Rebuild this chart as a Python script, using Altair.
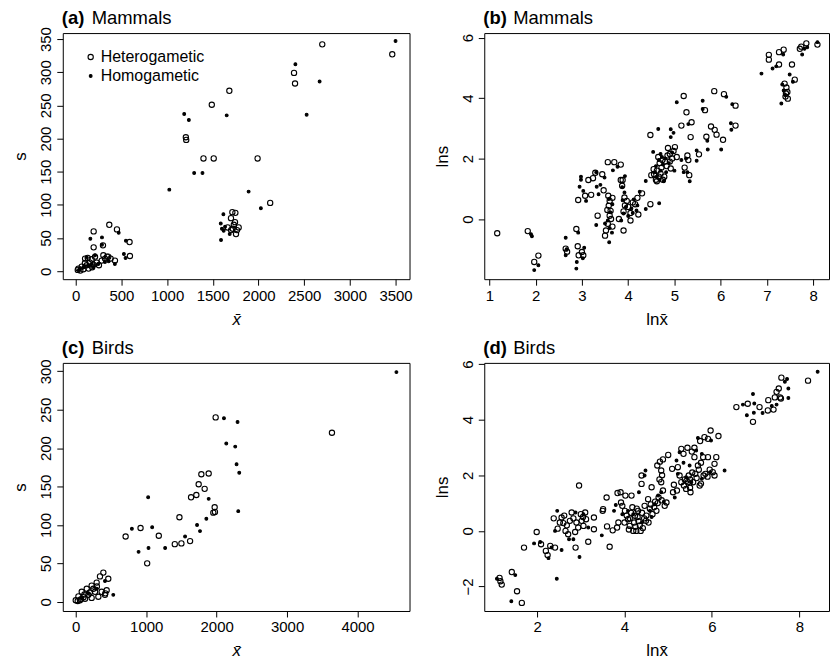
import altair as alt
import pandas as pd

HET = "Heterogametic"
HOM = "Homogametic"
FONT = "Liberation Sans"

# ---------- panel (a): Mammals, raw scale ----------
a_het = [(2698,342),(3464,327),(2389,299),(2400,283),(1681,272),(1489,251),(1205,202),(1209,198),
         (1398,170),(1510,170),(1990,170),(2128,103),
         (1714,89),(1747,88),(1699,80),(1743,74),(1718,64),(1783,66),(1754,56),(1663,66),(1730,70),
         (1765,62),(1700,62),
         (196,60),(367,70),(451,63),(589,44),(593,23),(196,36),(298,39),(356,22),(382,19),(429,16),
         (102,19),(131,20),(174,18),(211,22),(156,13),(193,10),(229,13),(120,9),(65,7),(29,4),(22,2),
         (84,3),(284,16),(254,9),(320,19),(302,24),(342,22),(50,1),(140,4),(180,6),(100,12)]
a_hom = [(3500,347),(2404,312),(2669,286),(2527,236),(1652,235),(1187,237),(1238,228),(1296,148),
         (1387,148),(1024,123),(1892,120),(2026,95),
         (1616,86),(1587,72),(1590,47),(1685,56),(1619,61),(1634,67),(1600,64),
         (160,49),(287,51),(470,58),(549,46),(527,26),(545,20),(428,11),(320,14),(247,11),(36,2),
         (87,6),(287,40),(120,21),(174,11),(211,24),(95,8),(138,9),(360,15),(193,6)]

# ---------- panel (b): Mammals, log scale ----------
b_het = [(1.17,-0.47),(1.83,-0.40),(1.97,-1.42),(2.06,-1.21),(2.65,-0.98),(2.68,-1.08),(2.88,-0.33),
         (2.91,-0.90),(2.93,-1.20),(3.00,-1.09),(3.03,-1.20),(2.92,0.63),
         (3.07,0.77),(3.14,1.29),(3.20,0.80),(3.29,1.53),(3.24,1.35),(3.34,0.11),(3.44,1.48),(3.47,0.95),
         (3.56,1.88),(3.70,1.88),(3.84,1.80),(3.84,1.29),
         (3.57,0.77),(3.60,0.60),(3.58,0.44),(3.62,0.27),(3.60,0.11),(3.63,0.00),(3.56,-0.16),
         (3.52,-0.38),(3.50,-0.55),(3.66,0.70),(3.55,0.30),(3.66,-0.25),
         (3.80,0.00),(3.90,-0.38),(3.88,1.29),(3.87,1.10),(3.92,0.71),(3.97,0.60),(3.93,0.45),
         (3.90,0.25),(4.00,0.40),(4.05,0.20),(4.10,0.55),(4.15,0.49),(4.20,0.70),(4.22,0.15),
         (4.30,0.85),(4.05,-0.05),
         (4.48,0.49),(4.48,2.78),(4.56,1.48),(4.50,1.45),(4.60,1.30),(4.62,1.60),(4.68,1.85),
         (4.72,1.70),(4.65,2.05),(4.78,1.40),(4.80,1.90),(4.86,2.35),(4.90,2.15),(4.92,1.67),
         (4.95,2.00),(5.01,2.38),(5.05,2.05),(4.75,1.30),(4.70,1.50),(4.85,2.10),
         (4.55,1.65),(4.66,1.40),(4.74,1.95),(4.83,1.75),(4.90,1.90),(4.98,2.25),(4.62,1.25),
         (5.15,3.09),(5.20,4.07),(5.26,3.53),(5.37,3.20),(5.35,2.71),(5.28,2.10),(5.30,1.95),
         (5.22,1.70),(5.32,1.45),(5.53,2.14),
         (5.66,3.60),(5.69,2.72),(5.79,3.06),(5.87,2.95),(5.91,2.79),(5.86,4.23),(6.07,4.13),
         (6.05,2.62),(6.32,3.75),(6.32,3.09),
         (7.04,5.27),(7.04,5.43),(7.26,5.52),(7.36,5.60),(7.26,5.11),(7.54,5.11),(7.60,4.61),
         (7.38,4.48),(7.42,4.35),(7.44,4.20),(7.40,4.05),(7.45,3.98),(7.41,4.15),
         (7.85,5.81),(7.71,5.63),(8.09,5.77),(7.74,5.70)]
b_hom = [(1.92,-0.57),(1.90,-0.50),(1.97,-1.69),(2.06,-1.53),(2.65,-0.62),(2.65,-1.20),(2.67,-1.00),
         (2.88,-1.64),(2.89,-1.42),(2.92,-0.45),(3.05,-0.95),(3.02,-1.30),
         (2.98,1.40),(2.98,1.30),(2.95,1.07),(3.03,0.93),(3.09,0.60),(3.32,1.07),(3.36,0.82),
         (3.31,1.55),(3.49,1.37),(3.40,1.13),(3.67,1.61),(3.77,1.73),(3.93,1.42),
         (3.31,-0.20),(3.59,-0.77),(3.58,0.66),(3.66,0.49),(3.62,0.22),(3.56,-0.05),(3.50,-0.15),
         (3.65,-0.45),(3.60,-0.30),
         (3.87,1.05),(3.92,0.88),(3.88,0.62),(3.95,0.40),(3.90,0.18),(4.00,0.10),(4.07,0.35),
         (4.12,0.65),(4.18,0.28),(4.20,0.45),(4.25,0.90),(4.10,0.20),(3.85,-0.05),
         (4.38,1.26),(4.38,0.33),(4.67,0.52),(4.54,2.22),(4.65,2.98),(4.92,2.71),(5.05,3.86),
         (4.92,2.97),(5.30,3.14),(4.98,2.85),
         (4.60,1.75),(4.66,1.95),(4.70,2.15),(4.75,1.80),(4.73,2.05),(4.82,1.55),(4.88,1.85),
         (4.58,1.55),(4.77,1.25),(4.62,1.40),(4.95,2.20),(5.00,1.60),(5.15,1.95),(5.20,1.55),
         (5.28,1.55),(5.33,1.25),(5.25,2.00),(4.70,1.60),(4.80,2.00),(4.68,1.30),
         (5.61,3.91),(5.61,3.64),(5.71,2.59),(5.72,2.30),(5.48,2.27),(5.48,1.93),(6.01,2.30),
         (6.12,4.04),(6.25,3.80),(6.22,3.17),(6.23,2.95),
         (6.88,4.81),(7.12,4.98),(7.35,5.44),(7.49,4.78),(7.56,4.54),(7.31,3.82),(7.33,4.45),
         (7.36,4.25),(7.39,4.10),(7.76,5.44),(7.81,5.63),(7.87,5.68),(8.09,5.85),(7.20,5.05)]

# ---------- panel (c): Birds, raw scale ----------
c_het = [(1986,240),(3637,220),(1783,166),(1887,167),(1745,153),(1830,147),(1712,139),(1637,136),
         (1972,123),(1976,117),(1953,116),(1472,110),(708,85),(920,96),(1179,86),(1406,75),
         (1500,76),(1623,79),(1014,50),
         (392,38),(462,30),(344,33),(297,25),(226,21),(156,17),(85,13),(38,7),(0,2),(132,4),
         (226,5),(321,6.5),(439,15),(415,9),(179,9),(75,3.5),(28,1),(123,9.5),(274,13),(368,13),
         (250,17),(200,12),(110,6),(60,2),(300,20),(420,11)]
c_hom = [(4552,299),(2104,239),(2297,234),(2137,206),(2264,202),(2283,179),(2321,168),(1887,134),
         (2307,118),(1854,108),(1722,100),(1764,92),(1552,85),(1028,136),(1085,97),(797,95),
         (892,65),(1033,70),(1269,70),(533,9),(415,27),(297,17),(179,11),(90,4)]

# ---------- panel (d): Birds, log scale ----------
d_het = [(1.14,-1.69),(1.16,-1.81),(1.19,-1.93),(1.42,-1.48),(1.54,-2.17),(1.65,-2.59),(1.70,-0.60),
         (1.99,-0.04),(2.09,-0.48),(2.20,-0.72),(2.24,-0.87),(2.30,-0.54),(2.41,-0.60),(2.38,0.45),
         (2.47,0.08),(2.56,0.48),(2.60,0.28),(2.65,0.00),(2.71,-0.12),(2.79,0.66),(2.75,0.36),
         (2.87,-0.04),(2.88,-0.60),(2.96,1.63),(2.94,0.12),(3.00,0.60),(3.02,0.36),(3.06,0.18),
         (3.10,0.66),(3.12,0.42),(3.17,-0.39),(3.30,0.48),(3.30,0.06),(3.50,0.72),(3.51,0.78),
         (3.59,1.20),(3.60,0.16),(3.66,-0.57),(3.73,0.02),(3.84,1.36),(3.91,1.39),(4.02,1.27),
         (4.16,1.27),(3.92,1.02),(3.95,0.90),(3.86,0.30),(3.83,0.12),(4.01,0.72),(4.08,0.42),
         (4.12,0.18),(4.20,0.00),(4.27,0.00),(4.37,0.00),(4.24,0.54),(4.31,0.72),(4.39,1.99),
         (4.39,1.69),(4.46,0.90),(4.49,0.36),(4.54,1.14),(4.62,1.57),(4.64,0.60),(4.73,0.72),
         (4.78,1.20),(4.81,2.49),(4.84,2.17),(4.88,2.57),(4.84,1.75),(4.88,1.45),(4.92,0.90),
         (4.96,1.02),(5.00,2.73),(5.13,1.66),(5.11,1.39),(5.09,2.23),(5.22,2.29),(5.26,1.99),
         (5.30,2.95),(5.35,2.77),(5.44,2.99),(5.36,1.63),(5.41,1.51),(5.51,1.39),(5.47,1.99),
         (5.57,1.75),(5.60,2.99),(5.60,2.65),(5.68,2.35),(5.72,1.63),(5.73,3.23),(5.83,3.37),
         (5.91,3.31),(5.97,3.61),(5.81,1.99),(5.91,2.65),(6.02,2.11),(6.06,2.41),(6.10,2.65),
         (6.15,3.41),(6.06,1.99),(6.56,4.45),(6.82,4.57),(7.09,4.45),(6.94,3.92),(7.29,4.70),
         (7.28,4.33),(7.41,4.36),(7.44,4.80),(7.48,5.00),(7.53,5.12),(7.56,4.80),(7.59,5.51),
         (7.58,4.76),(8.20,5.40),
         (4.05,0.55),(4.15,0.65),(4.22,0.30),(4.30,0.50),(4.35,0.20),(4.40,0.65),(4.45,0.45),
         (4.10,0.05),(4.18,0.85),(4.28,0.80),(4.55,0.30),(4.60,0.95),(4.70,1.05),(4.85,1.10),
         (5.45,1.75),(5.55,2.10),(5.65,1.90),(5.70,2.20),(5.75,1.70),(5.85,2.05),(5.50,1.55),
         (5.38,1.85),
         (2.52,0.30),(2.62,0.55),(2.68,0.20),(2.83,0.45),(2.90,0.30),(3.05,0.50),(4.00,0.30),
         (4.12,0.45),(4.25,0.15),(4.32,0.35),(4.42,0.10),(4.50,0.55),(4.58,0.80),(4.68,0.85),
         (4.76,1.00),(4.80,1.85),(4.86,2.00),(4.75,2.35),(5.20,1.45),(5.30,1.75),(5.42,1.80),
         (5.50,1.85),(5.62,2.05),(5.75,2.45),(5.90,1.95),(5.95,2.20),(5.54,2.85),(5.80,2.65)]
d_hom = [(1.08,-1.72),(1.50,-1.59),(1.41,-2.53),(1.93,-0.45),(2.07,-0.40),(2.26,-0.98),(2.33,-0.60),
         (2.45,-1.72),(2.56,-0.69),(2.41,0.00),(2.46,0.72),(2.73,-0.30),(2.83,-0.30),(2.97,-0.94),
         (2.88,0.66),(3.06,0.60),(3.17,0.12),(3.48,-0.16),(3.76,0.72),(3.80,0.93),(3.95,0.60),
         (4.08,0.72),(4.33,1.39),(4.48,2.17),(4.46,1.99),(4.69,0.96),(4.58,0.72),(4.77,1.27),
         (4.84,1.39),(5.15,1.20),(5.19,2.53),(5.26,2.83),(5.22,2.05),(5.41,1.93),(5.49,2.35),
         (5.53,1.75),(5.64,2.89),(5.68,3.34),(5.77,2.77),(5.77,1.87),(5.98,3.25),(5.96,2.11),
         (6.29,2.17),(6.71,4.54),(6.80,4.16),(6.94,4.92),(6.97,4.58),(6.96,4.25),(7.16,4.24),
         (7.37,4.49),(7.48,4.54),(7.72,5.46),(7.75,5.12),(7.75,4.78),(7.67,5.36),(8.42,5.72),
         (4.20,0.60),(4.40,0.30),(4.62,0.50),(4.90,1.05),(5.35,2.45)]

a_xticks = [0, 500, 1000, 1500, 2000, 2500, 3000, 3500]
a_yticks = [0, 50, 100, 150, 200, 250, 300, 350]
b_xticks = [1, 2, 3, 4, 5, 6, 7, 8]
b_yticks = [-2, 0, 2, 4, 6]
c_xticks = [0, 1000, 2000, 3000, 4000]
c_yticks = [0, 50, 100, 150, 200, 250, 300]
d_xticks = [2, 4, 6, 8]
d_yticks = [-2, 0, 2, 4, 6]


def make_df(het, hom):
    rows = [{"x": x, "y": y, "g": HET} for x, y in het]
    rows += [{"x": x, "y": y, "g": HOM} for x, y in hom]
    return pd.DataFrame(rows)


def panel(het, hom, letter, name, xdom, ydom, xticks, yticks, xtitle, ytitle,
          xitalic, show_legend, w, h):
    df = make_df(het, hom)
    if show_legend:
        leg = alt.Legend(title=None, orient="none", legendX=20, legendY=16,
                         labelFont=FONT, labelFontSize=16, labelColor="black",
                         labelOffset=2, rowPadding=3, padding=0,
                         symbolStrokeColor="black", symbolStrokeWidth=1.1)
    else:
        leg = None
    dom = [HET, HOM]
    pts = alt.Chart(df).mark_point(shape="circle", filled=True, strokeWidth=1.1,
                                   opacity=1).encode(
        x=alt.X("x:Q", scale=alt.Scale(domain=xdom, nice=False, zero=False),
                axis=alt.Axis(values=xticks, title=xtitle, format="d",
                              titleFontStyle="italic" if xitalic else "normal")),
        y=alt.Y("y:Q", scale=alt.Scale(domain=ydom, nice=False, zero=False),
                axis=alt.Axis(values=yticks, title=ytitle, format="d")),
        fill=alt.Fill("g:N", scale=alt.Scale(domain=dom, range=["rgba(0,0,0,0)", "black"]),
                      legend=leg),
        stroke=alt.Stroke("g:N", scale=alt.Scale(domain=dom, range=["black", "black"]),
                          legend=leg),
        size=alt.Size("g:N", scale=alt.Scale(domain=dom, range=[28, 8]), legend=leg),
    )
    lab = pd.DataFrame({"letter": [letter], "name": [name]})
    t1 = alt.Chart(lab).mark_text(align="left", baseline="alphabetic", font=FONT,
                                  fontSize=18.5, fontWeight="bold", color="black").encode(
        x=alt.value(-1), y=alt.value(-9), text="letter:N")
    t2 = alt.Chart(lab).mark_text(align="left", baseline="alphabetic", font=FONT,
                                  fontSize=18.5, color="black").encode(
        x=alt.value(29), y=alt.value(-9), text="name:N")
    return alt.layer(pts, t1, t2).properties(width=w, height=h)


pa = panel(a_het, a_hom, "(a)", "Mammals", [-142, 3653], [-12, 359], a_xticks, a_yticks,
           "x\u0304", "s", True, True, 348, 247)
pb = panel(b_het, b_hom, "(b)", "Mammals", [0.89, 8.34], [-1.99, 6.15], b_xticks, b_yticks,
           "lnx\u0304", "lns", False, False, 346, 247)
pc = panel(c_het, c_hom, "(c)", "Birds", [-184, 4738], [-12, 311], c_xticks, c_yticks,
           "x\u0304", "s", True, False, 348, 249)
pd_ = panel(d_het, d_hom, "(d)", "Birds", [0.79, 8.68], [-2.88, 6.04], d_xticks, d_yticks,
            "lnx\u0304", "lns", False, False, 346, 249)

ind = dict(fill="independent", stroke="independent", size="independent")
chart = alt.concat(pa, pb, pc, pd_, columns=2, spacing={"row": 84, "column": 75},
                   bounds="flush").resolve_scale(**ind).resolve_legend(**ind)
chart = chart.properties(
    padding={"left": 11, "top": 7, "right": 1, "bottom": 2},
    background="white",
).configure_view(
    stroke="black", strokeWidth=1
).configure_axis(
    domain=False, grid=False, ticks=True, tickColor="black", tickSize=6, tickWidth=1,
    labelFont=FONT, labelFontSize=15, labelColor="black", labelPadding=3,
    titleFont=FONT, titleFontSize=17, titleFontWeight="normal", titleColor="black",
    labelOverlap=False,
).configure_axisY(
    labelAngle=270, labelAlign="center", labelBaseline="bottom", titlePadding=9
).configure_axisX(
    titlePadding=8
)

chart.save("out.html", embed_options={"renderer": "svg", "actions": False})
